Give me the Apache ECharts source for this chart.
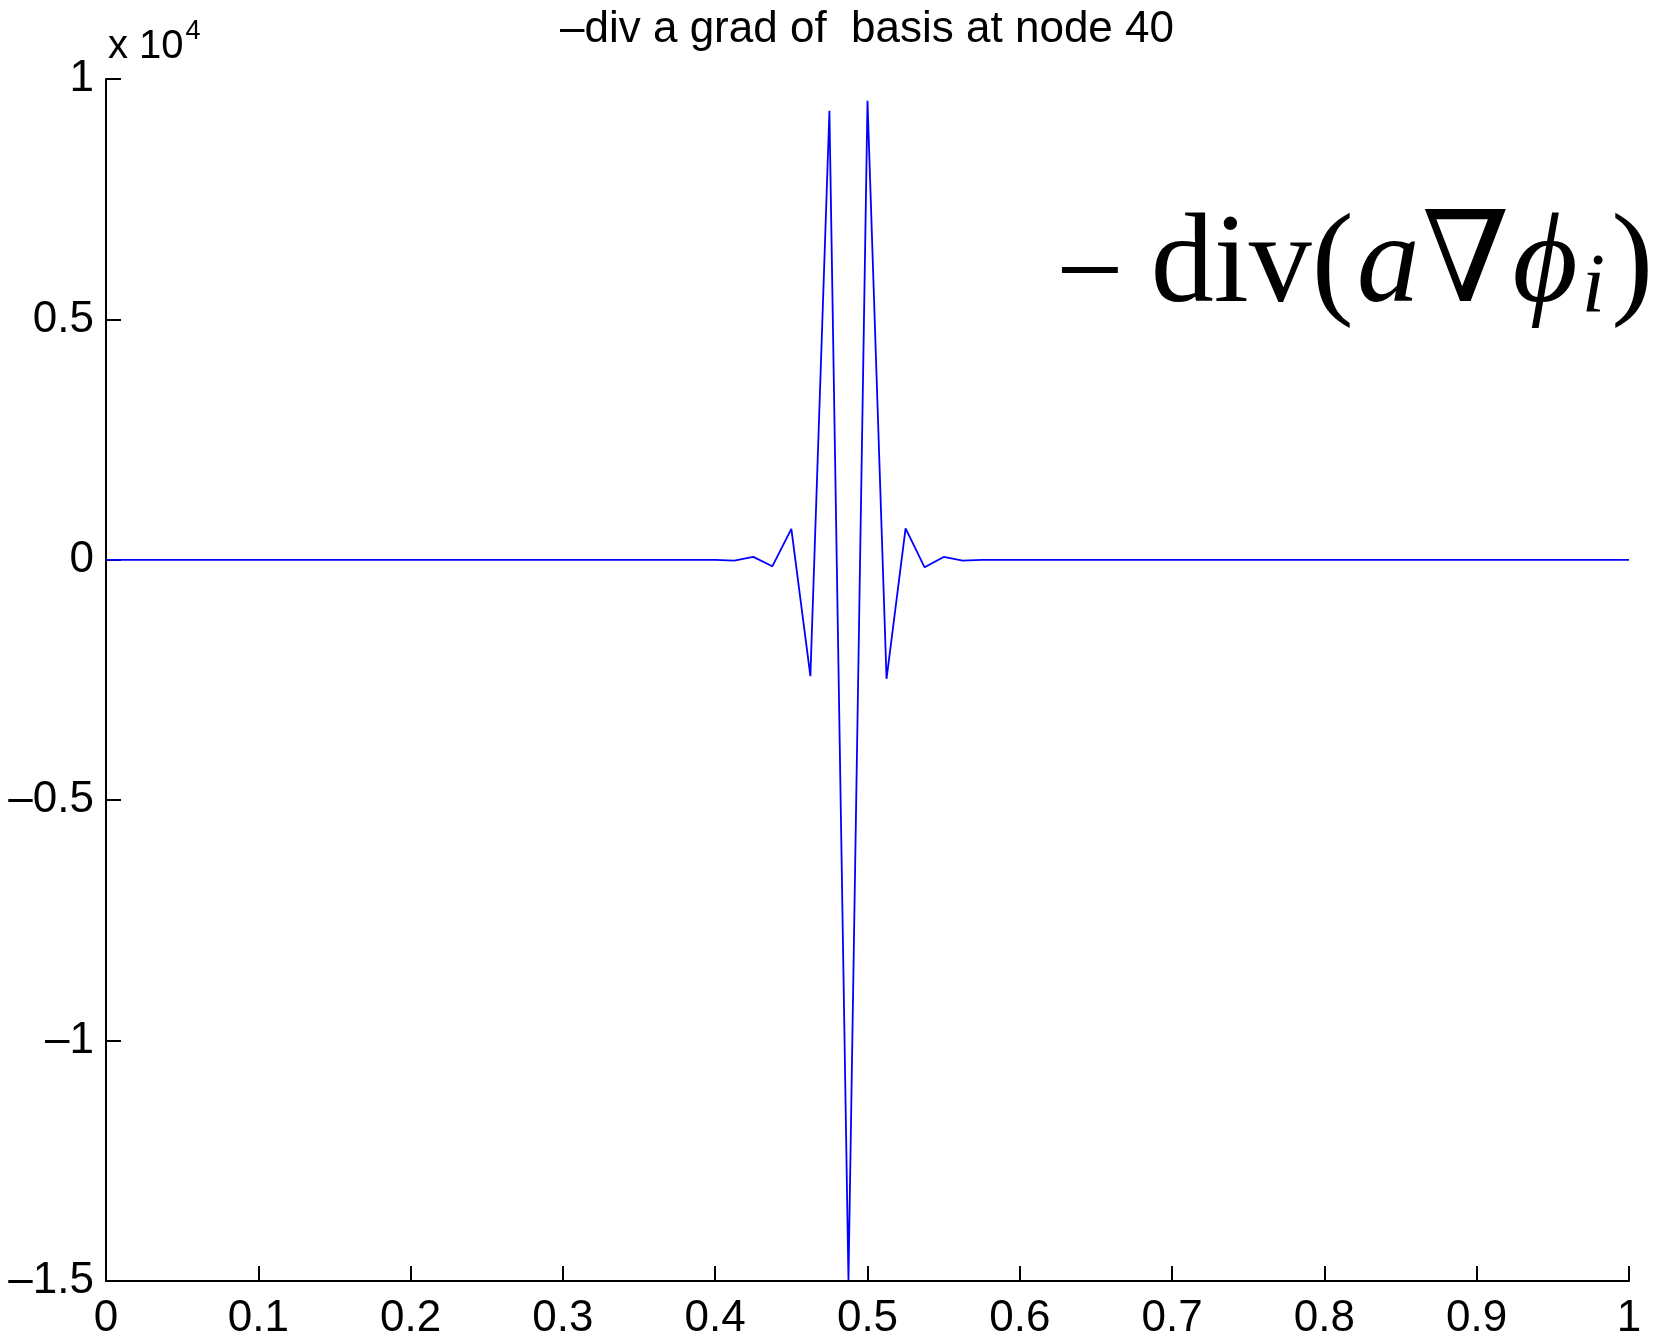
<!DOCTYPE html>
<html>
<head>
<meta charset="utf-8">
<script src="https://cdn.jsdelivr.net/npm/echarts@6/dist/echarts.min.js"></script>
<style>
html,body{margin:0;padding:0;background:#fff;}
#chart{width:1654px;height:1341px;}
</style>
</head>
<body>
<div id="chart"></div>
<script>
// node positions (x) and values of -div(a grad phi_i)
const xNodes = [0, 0.4, 0.4125, 0.425, 0.4375, 0.45, 0.4625, 0.475, 0.4875, 0.5, 0.5125, 0.525, 0.5375, 0.55, 0.5625, 0.575, 1];
const yValues = [0, 0, -17, 60, -135, 642, -2421, 9341, -14980, 9549, -2475, 655, -156, 60, -17, 0, 0];
const xTicks = [0, 0.1, 0.2, 0.3, 0.4, 0.5, 0.6, 0.7, 0.8, 0.9, 1];
const yTicks = [-15000, -10000, -5000, 0, 5000, 10000];
const titleText = '\u2013div a grad of  basis at node 40';

const data = xNodes.map((x, i) => [x, yValues[i]]);
const chart = echarts.init(document.getElementById('chart'), null, {renderer: 'canvas'});
const F = 'Liberation Sans, Arial, Helvetica, sans-serif';
const S = 'Liberation Serif, DejaVu Serif, serif';
const axisCommon = {
  axisLine: {show: true, onZero: false, lineStyle: {color: '#000', width: 2}},
  axisTick: {show: true, inside: true, length: 15, lineStyle: {color: '#000', width: 2}},
  splitLine: {show: false},
};
chart.setOption({
  animation: false,
  backgroundColor: '#fff',
  grid: {left: 106, top: 79, width: 1523, height: 1203, containLabel: false},
  xAxis: Object.assign({
    type: 'value', min: xTicks[0], max: xTicks[xTicks.length - 1], interval: 0.1,
    axisLabel: {color: '#000', fontFamily: F, fontSize: 44, margin: 16, showMinLabel: true, showMaxLabel: true,
      formatter: v => String(Math.round(v * 10) / 10)}
  }, axisCommon),
  yAxis: Object.assign({
    type: 'value', min: yTicks[0], max: yTicks[yTicks.length - 1], interval: 5000,
    axisLabel: {color: '#000', fontFamily: F, fontSize: 44, margin: 12, showMinLabel: true, showMaxLabel: true,
      formatter: v => String(Math.round(v / 1000) / 10).replace('-', '\u2013')}
  }, axisCommon),
  series: [{
    type: 'line', data: data, symbol: 'none', clip: true,
    lineStyle: {color: '#0000ff', width: 1.8}
  }],
  graphic: [
    {type: 'text', style: {text: titleText, x: 867, y: 30, font: '44px ' + F, fill: '#000', align: 'center', verticalAlign: 'middle'}},
    {type: 'text', style: {
      x: 108, y: 67, verticalAlign: 'bottom', align: 'left',
      text: '{b|x 10}{s|4}',
      rich: {
        b: {fontFamily: F, fontSize: 40, color: '#000', verticalAlign: 'bottom'},
        s: {fontFamily: F, fontSize: 27, color: '#000', verticalAlign: 'top', padding: [0, 0, 22, 2]}
      }
    }},
    {type: 'text', style: {
      x: 1056, y: 268, verticalAlign: 'middle', align: 'left',
      text: '{m|\u2212}{n|div(}{it|a}{n|\u2207}{it|\u03d5}{sub|i}{n|)}',
      rich: {
        m: {fontFamily: S, fontSize: 120, color: '#000', verticalAlign: 'middle', padding: [20, 27, 0, 0]},
        n: {fontFamily: S, fontSize: 126, color: '#000'},
        it: {fontFamily: S, fontStyle: 'italic', fontSize: 126, color: '#000', padding: [0, 2, 0, 3]},
        sub: {fontFamily: S, fontStyle: 'italic', fontSize: 84, color: '#000', padding: [44, 6, 0, 2]}
      }
    }}
  ]
});
</script>
</body>
</html>
